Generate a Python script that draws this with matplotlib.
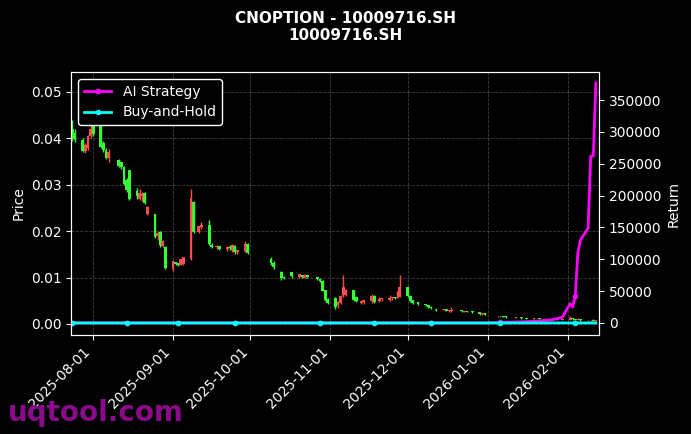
import numpy as np
import pandas as pd
import matplotlib
matplotlib.use('Agg')
import matplotlib.pyplot as plt
import matplotlib.dates as mdates

plt.style.use('dark_background')

# trading days
dates = (['2025-07-%02d' % d for d in [24, 25, 28, 29, 30, 31]] +
         ['2025-08-%02d' % d for d in [1, 4, 5, 6, 7, 11, 12, 13, 14, 15, 18, 19, 20, 21, 22, 25, 26, 27, 28, 29]] +
         ['2025-09-%02d' % d for d in [1, 2, 3, 4, 5, 8, 9, 11, 12, 15, 16, 18, 19, 22, 23, 24, 25, 26, 29, 30]] +
         ['2025-10-%02d' % d for d in [9, 10, 13, 14, 17, 20, 21, 22, 23, 27, 28, 29, 30, 31]] +
         ['2025-11-%02d' % d for d in [3, 4, 5, 6, 7, 10, 11, 13, 14, 17, 18, 20, 21, 24, 25, 26, 27, 28]] +
         ['2025-12-%02d' % d for d in [1, 2, 3, 5, 8, 9, 10, 12, 15, 16, 17, 18, 22, 23, 24, 26, 29, 30, 31]] +
         ['2026-01-%02d' % d for d in [5, 6, 7, 8, 12, 14, 16, 19, 21, 23, 26, 28, 30]] +
         ['2026-02-%02d' % d for d in [2, 3, 4, 5, 6, 9, 10, 11, 12]])

opens = [.0420, .0410, .0396, .0372, .0380, .0405,
         .0425, .0425, .0390, .0375, .0358, .0352, .0348, .0338, .0310, .0330, .0285, .0270, .0275, .0282, .0238, .0235, .0190, .0197, .0168, .0165,
         .0118, .0132, .0130, .0128, .0130, .0140, .0262, .0198, .0208, .0212, .0170, .0165, .0168, .0162, .0165, .0160, .0168, .0155, .0158, .0172,
         .0140, .0130, .0112, .0100, .0110, .0102, .0104, .0100, .0104, .0100, .0095, .0092, .0072, .0052,
         .0055, .0040, .0045, .0062, .0062, .0072, .0058, .0045, .0048, .0050, .0060, .0050, .0053, .0052, .0055, .0056, .0056, .0058,
         .0078, .0060, .0050, .0046, .0042, .0040, .0036, .0032, .0030, .0031, .0028, .0027, .0028, .0026, .0027, .0026, .0024, .0021, .0022,
         .0016, .0017, .0016, .0015, .0013, .0013, .0012, .0011, .0011, .0010, .0010, .0009, .0009,
         .0009, .0012, .0010, .0009, .0009, .0008, .0008, .0008, .0007]
highs = [.0440, .0420, .0400, .0390, .0408, .0440,
         .0430, .0432, .0395, .0380, .0378, .0356, .0350, .0340, .0315, .0332, .0292, .0290, .0285, .0285, .0255, .0238, .0200, .0200, .0180, .0168,
         .0138, .0133, .0131, .0140, .0145, .0290, .0265, .0212, .0220, .0225, .0175, .0170, .0168, .0168, .0170, .0172, .0170, .0160, .0178, .0175,
         .0145, .0135, .0115, .0104, .0113, .0108, .0106, .0108, .0105, .0102, .0098, .0094, .0074, .0055,
         .0058, .0050, .0063, .0105, .0076, .0074, .0060, .0050, .0052, .0065, .0062, .0058, .0056, .0062, .0058, .0058, .0070, .0105,
         .0080, .0062, .0052, .0048, .0044, .0041, .0038, .0033, .0032, .0032, .0030, .0036, .0029, .0028, .0028, .0027, .0025, .0023, .0023,
         .0018, .0018, .0017, .0016, .0014, .0014, .0013, .0012, .0012, .0011, .0011, .0010, .0010,
         .0018, .0013, .0011, .0012, .0010, .0009, .0009, .0010, .0008]
lows = [.0395, .0392, .0370, .0368, .0375, .0400,
        .0405, .0380, .0370, .0355, .0350, .0338, .0335, .0300, .0285, .0268, .0270, .0268, .0265, .0258, .0235, .0185, .0180, .0165, .0165, .0118,
        .0115, .0128, .0125, .0127, .0128, .0138, .0195, .0196, .0205, .0170, .0163, .0162, .0160, .0158, .0160, .0155, .0150, .0150, .0156, .0150,
        .0128, .0118, .0095, .0096, .0100, .0100, .0100, .0099, .0100, .0095, .0090, .0070, .0050, .0042,
        .0033, .0035, .0044, .0058, .0060, .0050, .0048, .0042, .0044, .0045, .0045, .0048, .0050, .0050, .0052, .0054, .0055, .0057,
        .0058, .0048, .0043, .0041, .0038, .0034, .0033, .0028, .0029, .0027, .0026, .0026, .0026, .0025, .0025, .0024, .0020, .0019, .0019,
        .0014, .0015, .0014, .0013, .0012, .0011, .0011, .0010, .0010, .0009, .0009, .0008, .0008,
        .0008, .0009, .0008, .0008, .0007, .0007, .0007, .0007, .0006]
closes = [.0398, .0397, .0372, .0385, .0405, .0420,
          .0410, .0382, .0375, .0358, .0370, .0340, .0338, .0302, .0288, .0270, .0275, .0282, .0280, .0260, .0250, .0188, .0195, .0170, .0178, .0120,
          .0135, .0130, .0127, .0138, .0143, .0270, .0198, .0210, .0212, .0172, .0165, .0166, .0162, .0165, .0163, .0170, .0155, .0158, .0172, .0152,
          .0132, .0122, .0098, .0098, .0103, .0106, .0102, .0105, .0102, .0097, .0092, .0072, .0052, .0045,
          .0036, .0046, .0060, .0078, .0072, .0052, .0050, .0048, .0050, .0060, .0047, .0053, .0054, .0055, .0056, .0055, .0057, .0078,
          .0060, .0050, .0045, .0042, .0040, .0036, .0035, .0030, .0031, .0028, .0029, .0029, .0027, .0027, .0026, .0025, .0021, .0022, .0020,
          .0017, .0016, .0015, .0014, .0013, .0012, .0011, .0011, .0010, .0010, .0009, .0009, .0009,
          .0012, .0010, .0009, .0009, .0008, .0008, .0008, .0007, .0007]

# AI strategy cumulative return, flat until January
strategy = ([0] * 97 +
            [500, 800, 1000, 1200, 1500, 1800, 2000, 2500, 3000, 4000, 5000, 7000, 9000,
             30000, 25000, 42000, 110000, 130000, 149000, 262000, 262000, 377000])

t = pd.to_datetime(dates)
o = np.array(opens); h = np.array(highs); l = np.array(lows); c = np.array(closes)
bh = c / c[0] - 1

fig = plt.figure(figsize=(6.91, 4.34), dpi=100, facecolor='black')
ax = fig.add_axes([0.103, 0.228, 0.764, 0.606])
ax.set_facecolor('black')

up = c >= o
cols = np.where(up, '#ff4d4d', '#33ff33')
ax.vlines(t, l, h, colors=cols, linewidth=1.0)
ax.bar(t, np.abs(c - o) + 0.0001, bottom=np.minimum(o, c), width=1.1, color=cols, linewidth=0)

ax.set_ylim(-0.0024, 0.0543)
ax.set_xlim(pd.Timestamp('2025-07-23 12:00'), pd.Timestamp('2026-02-13 06:00'))
ax.set_ylabel('Price')
ax.grid(True, linestyle='--', color='gray', alpha=0.5, linewidth=0.6)

ax2 = ax.twinx()
ax2.plot(t, strategy, color='#ff00ff', linewidth=2, marker='o', markersize=3, markevery=14, label='AI Strategy')
ax2.plot(t, bh, color='#00ffff', linewidth=2, marker='o', markersize=3, markevery=14, label='Buy-and-Hold')
ax2.set_ylim(-19000, 394000)
ax2.set_ylabel('Return')

ax.xaxis.set_major_locator(mdates.MonthLocator())
ax.xaxis.set_major_formatter(mdates.DateFormatter('%Y-%m-%d'))
plt.setp(ax.get_xticklabels(), rotation=45, ha='right')

for s in list(ax.spines.values()) + list(ax2.spines.values()):
    s.set_color('white')

leg = ax2.legend(loc='upper left', facecolor='black', edgecolor='white', framealpha=1)

fig.suptitle('CNOPTION - 10009716.SH\n10009716.SH', fontweight='bold', fontsize=11, y=0.975)
fig.text(0.012, 0.03, 'uqtool.com', color='#8b0a8b', fontsize=20, fontweight='bold')

fig.savefig('out.png', dpi=100, facecolor='black')
